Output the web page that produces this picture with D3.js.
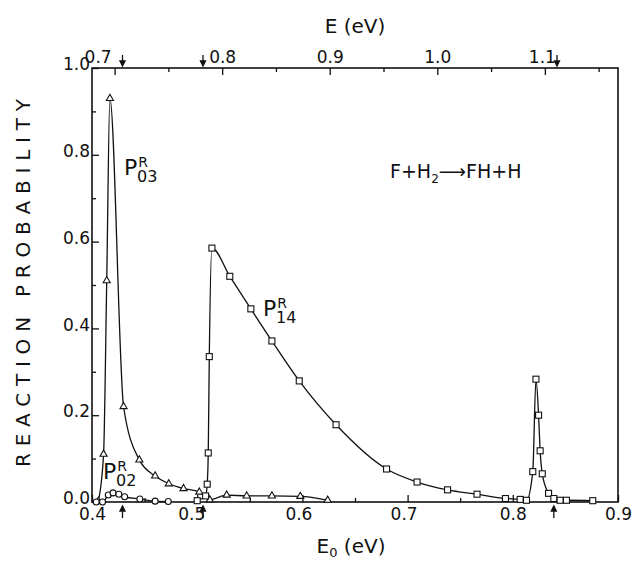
<!DOCTYPE html>
<meta charset="utf-8">
<head>
<title>Reaction probability F+H2</title>
<style>
  body { margin: 0; background: #fff; }
  svg text { font-family: "DejaVu Sans", sans-serif; fill: #111; }
</style>
</head>
<body>
<div id="chart"></div>
<script src="https://cdn.jsdelivr.net/npm/d3@7"></script>
<script>

// values: [E0 (eV), reaction probability]
var p03 = [[0.406,0.002],[0.411,0.11],[0.414,0.51],[0.417,0.93],[0.430,0.22],[0.445,0.097],
           [0.460,0.06],[0.473,0.042],[0.487,0.031],[0.502,0.023],[0.512,0.005],[0.528,0.016],
           [0.547,0.014],[0.571,0.014],[0.598,0.013],[0.624,0.004]];
var p02 = [[0.404,0.0],[0.410,0.0],[0.4155,0.016],[0.420,0.021],[0.4255,0.018],[0.431,0.012],
           [0.4455,0.007],[0.460,0.002],[0.4725,0.001]];
var p14 = [[0.500,0.003],[0.508,0.014],[0.5095,0.041],[0.5105,0.113],[0.5115,0.335],[0.514,0.585],
           [0.531,0.52],[0.551,0.445],[0.571,0.371],[0.597,0.279],[0.632,0.178],[0.680,0.076],
           [0.709,0.046],[0.738,0.028],[0.766,0.018],[0.793,0.008],[0.807,0.006],[0.813,0.004],
           [0.819,0.07],[0.822,0.283],[0.8245,0.2],[0.826,0.118],[0.828,0.065],[0.834,0.02],
           [0.839,0.008],[0.845,0.004],[0.851,0.004],[0.876,0.003]];

var xTicks = [0.4, 0.5, 0.6, 0.7, 0.8, 0.9];
var yTicks = [0.0, 0.2, 0.4, 0.6, 0.8, 1.0];
var eTicks = [0.7, 0.8, 0.9, 1.0, 1.1];
var eDomain = [0.679, 1.168];     // E at the left and right edge of the frame
var bottomArrows = [0.429, 0.5055, 0.839];
var topArrows = [0.429, 0.5055, 0.842];

var margin = {top: 68, right: 15, bottom: 61, left: 92},
    width = 633 - margin.left - margin.right,
    height = 563 - margin.top - margin.bottom;

var svg = d3.select("#chart")
  .append("svg")
    .attr("width", 633)
    .attr("height", 563)
  .append("g")
    .attr("transform", "translate(" + margin.left + "," + margin.top + ")");

var x = d3.scaleLinear().domain([0.4, 0.9]).range([0, width]);
var y = d3.scaleLinear().domain([0, 1]).range([height, 0]);
var xe = d3.scaleLinear().domain(eDomain).range([0, width]);

// frame
svg.append("rect")
  .attr("width", width).attr("height", height)
  .attr("fill", "none").attr("stroke", "#111").attr("stroke-width", 1.6);

function steps(lo, hi, step) {
  var out = [];
  for (var v = lo; v <= hi + 1e-9; v += step) out.push(Math.round(v * 1000) / 1000);
  return out;
}

// bottom axis
var gx = svg.append("g").attr("transform", "translate(0," + height + ")")
  .call(d3.axisBottom(x).tickValues(xTicks).tickFormat(d3.format(".1f"))
        .tickSizeInner(-7).tickSizeOuter(0).tickPadding(6));
svg.append("g").attr("transform", "translate(0," + height + ")")
  .call(d3.axisBottom(x).tickValues(steps(0.45, 0.85, 0.1)).tickFormat("")
        .tickSizeInner(-4).tickSizeOuter(0));

// left axis
var gy = svg.append("g")
  .call(d3.axisLeft(y).tickValues(yTicks).tickFormat(d3.format(".1f"))
        .tickSizeInner(-7).tickSizeOuter(0).tickPadding(2));
svg.append("g")
  .call(d3.axisLeft(y).tickValues([0.1, 0.3, 0.5, 0.7, 0.9]).tickFormat("")
        .tickSizeInner(-4).tickSizeOuter(0));

// top axis in E
var gt = svg.append("g")
  .call(d3.axisTop(xe).tickValues(eTicks).tickFormat(d3.format(".1f"))
        .tickSizeInner(-7).tickSizeOuter(0).tickPadding(5));
svg.append("g")
  .call(d3.axisTop(xe).tickValues(steps(0.75, 1.15, 0.1)).tickFormat("")
        .tickSizeInner(-4).tickSizeOuter(0));

svg.selectAll(".domain").remove();
svg.selectAll(".tick line").attr("stroke", "#111").attr("stroke-width", 1.3);
svg.selectAll(".tick text").style("font-size", "17px").attr("fill", "#111");
gy.selectAll(".tick text").attr("dy", "0.1em");
// labels nudged aside by the threshold arrows, as in the original
gt.selectAll(".tick text").filter(function(d) { return d === 0.7; }).attr("dx", "-17");
gt.selectAll(".tick text").filter(function(d) { return d === 1.1; }).attr("dx", "-3");
gx.selectAll(".tick text").filter(function(d) { return d === 0.5; }).attr("dx", "-6");
gx.selectAll(".tick text").filter(function(d) { return d === 0.6 || d === 0.7; }).attr("dx", "-4");

// arrows marking thresholds
svg.selectAll("bArrow").data(bottomArrows).enter().append("path")
  .attr("d", function(d) {
    var px = x(d), py = height + 4;
    return "M" + px + "," + (py + 12) + "V" + (py + 4) +
           "M" + (px - 2.5) + "," + (py + 5) + "L" + px + "," + py + "L" + (px + 2.5) + "," + (py + 5) + "Z";
  })
  .attr("stroke", "#111").attr("stroke-width", 1.3).attr("fill", "#111");
svg.selectAll("tArrow").data(topArrows).enter().append("path")
  .attr("d", function(d) {
    var px = x(d), py = -2;
    return "M" + px + "," + (py - 11) + "V" + (py - 4) +
           "M" + (px - 2.5) + "," + (py - 5) + "L" + px + "," + py + "L" + (px + 2.5) + "," + (py - 5) + "Z";
  })
  .attr("stroke", "#111").attr("stroke-width", 1.3).attr("fill", "#111");

// lines
var line = d3.line()
  .x(function(d) { return x(d[0]); })
  .y(function(d) { return y(d[1]); })
  .curve(d3.curveMonotoneX);

[p02, p03, p14].forEach(function(s) {
  svg.append("path").datum(s)
    .attr("d", line)
    .attr("fill", "none").attr("stroke", "#111").attr("stroke-width", 1.3);
});

// markers
svg.selectAll("tri").data(p03).enter().append("path")
  .attr("d", d3.symbol().type(d3.symbolTriangle).size(22))
  .attr("transform", function(d) { return "translate(" + x(d[0]) + "," + y(d[1]) + ")"; })
  .attr("fill", "#fff").attr("stroke", "#111").attr("stroke-width", 1.1);
svg.selectAll("circ").data(p02).enter().append("circle")
  .attr("cx", function(d) { return x(d[0]); })
  .attr("cy", function(d) { return y(d[1]); })
  .attr("r", 3)
  .attr("fill", "#fff").attr("stroke", "#111").attr("stroke-width", 1.1);
svg.selectAll("sq").data(p14).enter().append("rect")
  .attr("x", function(d) { return x(d[0]) - 3; })
  .attr("y", function(d) { return y(d[1]) - 3; })
  .attr("width", 6).attr("height", 6)
  .attr("fill", "#fff").attr("stroke", "#111").attr("stroke-width", 1.1);

// curve labels P^R_nn, one text each
function pLabel(px, py, sub) {
  var t = svg.append("text").attr("x", px).attr("y", py).style("font-size", "22px");
  t.append("tspan").text("P");
  t.append("tspan").attr("dx", 1).attr("dy", -8).style("font-size", "14px").text("R");
  t.append("tspan").attr("dx", -11).attr("dy", 15).style("font-size", "16px").text(sub);
}
pLabel(32, 107, "03");
pLabel(11, 411, "02");
pLabel(171, 248, "14");

// reaction annotation
var ann = svg.append("text").attr("x", 298).attr("y", 110).style("font-size", "19px");
ann.append("tspan").text("F+H");
ann.append("tspan").attr("dy", 5).style("font-size", "12px").text("2");
ann.append("tspan").attr("dy", -5).text("\u27F6FH+H");

// axis titles
svg.append("text")
  .attr("x", width / 2 - 4).attr("y", height + 51)
  .attr("text-anchor", "middle").style("font-size", "20px")
  .call(function(t) {
    t.append("tspan").text("E");
    t.append("tspan").attr("dy", 4).style("font-size", "13px").text("0");
    t.append("tspan").attr("dy", -4).text(" (eV)");
  });
svg.append("text")
  .attr("x", width / 2).attr("y", -35)
  .attr("text-anchor", "middle").style("font-size", "20px")
  .text("E (eV)");
svg.append("text")
  .attr("transform", "translate(" + (-62) + "," + (height / 2 - 2) + ")rotate(-90)")
  .attr("text-anchor", "middle").style("font-size", "20px")
  .attr("textLength", 368).attr("lengthAdjust", "spacing")
  .text("REACTION PROBABILITY");

</script>
</body>
